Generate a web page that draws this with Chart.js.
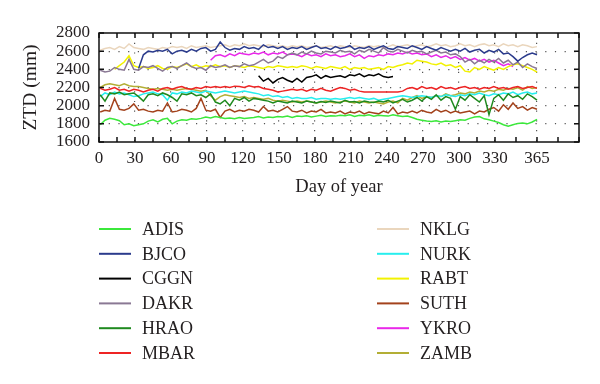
<!DOCTYPE html>
<html>
<head>
<meta charset="utf-8">
<script src="https://cdn.jsdelivr.net/npm/chart.js@4"></script>
<style>body{margin:0;background:#fff}</style>
</head>
<body>
<canvas id="ztd" width="600" height="384"></canvas>
<script>
// day of year (every 4th day)
const days = [1,5,9,13,17,21,25,29,33,37,41,45,49,53,57,61,65,69,73,77,81,85,89,93,97,
  101,105,109,113,117,121,125,129,133,137,141,145,149,153,157,161,165,169,173,177,181,185,189,193,197,
  201,205,209,213,217,221,225,229,233,237,241,245,249,253,257,261,265,269,273,277,281,285,289,293,297,
  301,305,309,313,317,321,325,329,333,337,341,345,349,353,357,361,365];

const stations = ['ADIS','BJCO','CGGN','DAKR','HRAO','MBAR','NKLG','NURK','RABT','SUTH','YKRO','ZAMB'];
const colors = ['#3be83b','#2b3b8c','#000000','#8a7894','#1f8a1f','#ee2424','#ead6bd','#27eeee','#f2f200','#a3421c','#e928e9','#b3ae35'];

const xTicks = [0,15,30,45,60,75,90,105,120,135,150,165,180,195,210,225,240,255,270,285,300,315,330,347.5,365,382.5,400];
const xLabels = [0,30,60,90,120,150,180,210,240,270,300,330,365];
const yTicks = [1600,1800,2000,2200,2400,2600,2800];

const ADIS = [1790,1840,1860,1850,1835,1790,1800,1780,
  1790,1800,1830,1845,1820,1850,1860,1800,
  1830,1845,1840,1855,1850,1860,1875,1865,1880,
  1870,1860,1865,1855,1870,1860,1865,1870,
  1880,1865,1875,1870,1880,1875,1885,1870,
  1885,1880,1890,1875,1885,1895,1880,1890,
  1885,1895,1890,1900,1880,1895,1890,1900,1885,
  1895,1890,1885,1900,1890,1880,1885,1870,
  1850,1840,1830,1825,1835,1820,1830,1825,
  1835,1845,1840,1860,1875,1880,1855,1845,
  1830,1815,1790,1775,1790,1805,1810,1800,1820,1850];
const BJCO = [null,null,null,null,null,null,null,null,
  2410,2560,2600,2590,2610,2600,2620,2570,
  2600,2610,2590,2620,2600,2630,2640,2600,2620,
  2700,2640,2610,2630,2620,2650,2630,2640,
  2620,2670,2640,2650,2630,2650,2620,2640,
  2630,2650,2620,2640,2660,2630,2640,2620,
  2650,2630,2640,2660,2620,2640,2630,2650,2620,
  2640,2660,2630,2620,2650,2640,2630,2660,
  2640,2620,2650,2630,2610,2640,2620,2600,
  2620,2600,2630,2590,2610,2620,2580,2610,
  2590,2620,2570,2580,2540,2490,2530,2560,2580,2560];
const CGGN = [null,null,null,null,null,null,null,null,
  null,null,null,null,null,null,null,null,
  null,null,null,null,null,null,null,null,null,
  null,null,null,null,null,null,null,null,
  2330,2270,2300,2250,2290,2310,2280,2260,
  2300,2260,2310,2320,2340,2300,2330,2310,
  2320,2330,2310,2340,2330,2350,2320,2340,2330,
  2350,2320,2310,2320,null,null,null,null,
  null,null,null,null,null,null,null,null,
  null,null,null,null,null,null,null,null,
  null,null,null,null,null,null,null,null,null,null];
const DAKR = [2390,2370,2380,2420,2400,2390,2510,2400,
  2390,2430,2420,2440,2410,2380,2420,2430,
  2410,2440,2470,2430,2410,2420,2390,2440,2420,
  2430,2450,2420,2440,2430,2460,2440,2450,
  2480,2510,2470,2490,2540,2520,2560,2580,
  2560,2590,2570,2600,2580,2570,2600,2590,
  2580,2610,2590,2600,2570,2610,2590,2620,2600,
  2580,2640,2600,2590,2620,2600,2580,2610,
  2590,2600,2570,2590,2610,2580,2590,2560,
  2570,2540,2480,2510,2460,2500,2470,2510,
  2480,2520,2470,2500,2450,2480,2420,2460,2430,2410];
const HRAO = [2120,2050,2140,2130,2150,2120,2130,2140,
  2100,2050,2120,2130,2110,2140,2120,2090,
  2050,2130,2120,2140,2110,2120,2090,2130,2040,
  2020,2060,2000,2080,2060,2090,2050,2080,
  2070,2060,2050,2030,2050,2040,2030,2050,
  2040,2030,2050,2040,2030,2045,2035,2050,
  2040,2030,2060,2040,2045,2030,2050,2040,2035,
  2050,2040,2060,2030,2050,2070,2040,2060,
  2090,2050,2100,2070,2120,2060,2100,2080,
  1960,2100,2060,2120,2080,2040,2110,1900,
  2080,2120,2060,2130,2090,2110,2070,2130,2100,2060];
const MBAR = [2190,2170,2180,2200,2170,2180,2160,2180,
  2170,2150,2170,2180,2160,2190,2200,2180,
  2200,2210,2190,2180,2200,2190,2210,2200,2210,
  2200,2210,2200,2215,2210,2200,2220,2205,
  2210,2190,2180,2170,2150,2160,2170,2180,
  2170,2180,2160,2180,2170,2190,2170,2160,
  2180,2200,2190,2170,2180,2160,2150,2150,2150,
  2150,2150,2150,2150,2150,2160,2190,2200,
  2180,2210,2190,2200,2180,2210,2190,2200,
  2180,2200,2210,2190,2200,2180,2200,2190,
  2210,2190,2200,2180,2200,2210,2190,2200,2210,2190];
const NKLG = [2610,2630,2640,2620,2650,2630,2680,2640,
  2630,2620,2640,2630,2620,2640,2630,2650,
  2640,2650,2630,2660,2640,2650,2660,2640,2650,
  2660,2670,2650,2670,2660,2680,2660,2670,
  2660,2650,2670,2660,2650,2660,2640,2660,
  2650,2660,2640,2650,2660,2640,2650,2660,
  2640,2660,2650,2640,2660,2650,2640,2660,2650,
  2660,2640,2650,2670,2650,2660,2670,2650,
  2660,2670,2650,2660,2680,2660,2670,2650,
  2660,2680,2660,2670,2650,2670,2680,2660,
  2670,2650,2680,2660,2670,2650,2670,2660,2640,2650];
const NURK = [2100,2140,2120,2150,2130,2140,2120,2100,
  2110,2130,2140,2150,2130,2120,2060,2140,
  2130,2150,2140,2160,2150,2140,2160,2150,2140,
  2150,2160,2150,2140,2150,2160,2150,2140,
  2130,2110,2120,2100,2110,2090,2100,2080,
  2090,2080,2080,2090,2070,2080,2080,2070,
  2080,2070,2080,2090,2080,2090,2080,2070,2080,
  2060,2070,2080,2090,2100,2110,2100,2090,
  2100,2110,2100,2090,2110,2100,2120,2110,
  2100,2120,2110,2130,2120,2140,2120,2110,
  2130,2120,2140,2130,2150,2120,2140,2150,2130,2140];
const RABT = [null,null,null,2400,2440,2480,2550,2440,
  2420,2430,2410,2420,2440,2410,2400,2430,
  2420,2440,2460,2430,2450,2420,2440,2430,2450,
  2430,2440,2420,2440,2430,2420,2440,2430,
  2420,2410,2430,2420,2440,2430,2420,2430,
  2420,2440,2430,2410,2430,2420,2410,2430,
  2420,2410,2430,2400,2420,2410,2420,2400,2410,
  2420,2400,2430,2420,2440,2450,2470,2460,
  2500,2490,2480,2460,2450,2470,2440,2450,
  2420,2440,2380,2370,2420,2400,2430,2410,
  2390,2420,2400,2430,2450,2460,2440,2420,2400,2370];
const SUTH = [1930,1950,1940,2080,1960,1950,1970,2020,
  1950,1960,1940,1930,1950,1940,2030,1930,
  1940,1960,1950,1930,1970,2080,1950,1940,1960,
  1870,1940,1960,1930,1950,1940,1960,1950,
  1930,1990,1940,1950,1930,1960,1990,1940,
  1930,1950,1920,1940,1930,1960,1920,1930,
  1920,1940,1910,1930,1920,1940,1910,1930,1920,
  1910,1940,1920,1980,1910,1930,1920,1940,
  1920,1950,1930,1920,1960,1930,1950,1920,
  1940,1920,1930,1940,1910,1940,1930,1960,
  1980,1940,2010,1960,2030,1970,1990,1950,1980,1960];
const YKRO = [null,null,null,null,null,null,null,null,
  null,null,null,null,null,null,null,null,
  null,null,null,null,null,null,null,2500,2550,
  2560,2540,2570,2550,2580,2570,2560,2580,
  2570,2590,2560,2580,2570,2590,2560,2570,
  2560,2540,2570,2550,2560,2540,2570,2550,
  2560,2540,2550,2570,2540,2560,2520,2550,2540,
  2560,2550,2570,2560,2580,2570,2590,2570,
  2580,2560,2570,2540,2560,2530,2550,2520,
  2540,2510,2530,2500,2520,2490,2510,2480,
  2500,2470,2440,2460,2430,null,null,null,null,null];
const ZAMB = [2200,2230,2240,2230,2220,2240,2220,2210,
  2210,2200,2190,2180,2190,2180,2170,2180,
  2170,2180,2190,2180,2170,2160,2170,2110,2060,
  2100,2120,2110,2100,2090,2100,2080,2090,
  2080,2070,2080,2060,2050,2060,2050,2040,
  2050,2040,2050,2040,2030,2040,2050,2040,
  2030,2040,2050,2040,2030,2050,2040,2030,2040,
  2030,2020,2040,2050,2030,2080,2060,2090,
  2110,2080,2100,2090,2110,2100,2130,2110,
  2120,2140,2130,2150,2140,2160,2150,2170,
  2160,2180,2170,2190,2180,2200,2170,2210,2190,2200];

const series = [ADIS,BJCO,CGGN,DAKR,HRAO,MBAR,NKLG,NURK,RABT,SUTH,YKRO,ZAMB];
const serif = "'Liberation Serif', 'DejaVu Serif', serif";
const ink = '#231f20';

// box around the plot with inward ticks on all four sides
const frame = {
  id: 'frame',
  afterDatasetsDraw(chart) {
    const {ctx, chartArea: a, scales: {x, y}} = chart;
    ctx.save();
    ctx.strokeStyle = '#111';
    ctx.lineWidth = 1.5;
    ctx.strokeRect(a.left, a.top, a.right - a.left, a.bottom - a.top);
    ctx.beginPath();
    x.ticks.forEach(t => {
      const px = x.getPixelForValue(t.value);
      ctx.moveTo(px, a.bottom); ctx.lineTo(px, a.bottom - 5);
      ctx.moveTo(px, a.top); ctx.lineTo(px, a.top + 5);
    });
    y.ticks.forEach(t => {
      const py = y.getPixelForValue(t.value);
      ctx.moveTo(a.left, py); ctx.lineTo(a.left + 5, py);
      ctx.moveTo(a.right, py); ctx.lineTo(a.right - 5, py);
    });
    ctx.stroke();
    ctx.restore();
  }
};

// two-column legend under the axes
const columnLegend = {
  id: 'columnLegend',
  afterDraw(chart) {
    const ctx = chart.ctx;
    ctx.save();
    ctx.font = '18px ' + serif;
    ctx.textBaseline = 'middle';
    chart.data.datasets.forEach((ds, i) => {
      const x0 = i < 6 ? 99 : 377;
      const yy = 229 + (i % 6) * 24.8;
      ctx.strokeStyle = ds.borderColor;
      ctx.lineWidth = 2;
      ctx.beginPath();
      ctx.moveTo(x0, yy);
      ctx.lineTo(x0 + 32, yy);
      ctx.stroke();
      ctx.fillStyle = ink;
      ctx.fillText(ds.label, x0 + 43, yy + 1);
    });
    ctx.restore();
  }
};

new Chart(document.getElementById('ztd'), {
  type: 'line',
  data: {
    datasets: stations.map((name, k) => ({
      label: name,
      data: days.map((d, i) => ({x: d, y: series[k][i]})),
      borderColor: colors[k],
      backgroundColor: colors[k],
      borderWidth: 1.5,
      pointRadius: 0,
      spanGaps: false,
    })),
  },
  options: {
    responsive: false,
    animation: false,
    layout: {padding: {left: 0, right: 21, top: 33, bottom: 186}},
    plugins: {legend: {display: false}, tooltip: {enabled: false}},
    scales: {
      x: {
        type: 'linear',
        min: 0,
        max: 400,
        afterBuildTicks: s => { s.ticks = xTicks.map(v => ({value: v})); },
        afterFit: s => { s.height = 56; },
        ticks: {
          autoSkip: false,
          maxRotation: 0,
          padding: 6,
          color: ink,
          font: {family: serif, size: 17},
          callback: v => xLabels.includes(v) ? String(v) : '',
        },
        grid: {
          drawTicks: false,
          lineWidth: 1.2,
          color: c => (c.tick && c.tick.value > 0 && xLabels.includes(c.tick.value)) ? '#555' : 'rgba(0,0,0,0)',
        },
        border: {display: false, dash: [1.2, 8.5]},
        title: {display: true, text: 'Day of year', color: ink, padding: {top: 0, bottom: 0},
          font: {family: serif, size: 18.5, lineHeight: 1.2}},
      },
      y: {
        min: 1600,
        max: 2800,
        afterBuildTicks: s => { s.ticks = yTicks.map(v => ({value: v})); },
        afterFit: s => { s.width = 99; },
        ticks: {
          autoSkip: false,
          padding: 9,
          color: ink,
          font: {family: serif, size: 17},
          callback: v => String(v),
        },
        grid: {
          drawTicks: false,
          lineWidth: 1.2,
          color: c => (c.tick && c.tick.value > 1600 && c.tick.value < 2800) ? '#555' : 'rgba(0,0,0,0)',
        },
        border: {display: false, dash: [1.2, 8.5]},
        title: {display: true, text: 'ZTD (mm)', color: ink, padding: {top: 19, bottom: 0},
          font: {family: serif, size: 19.5, lineHeight: 1.2}},
      },
    },
  },
  plugins: [frame, columnLegend],
});
</script>
</body>
</html>
